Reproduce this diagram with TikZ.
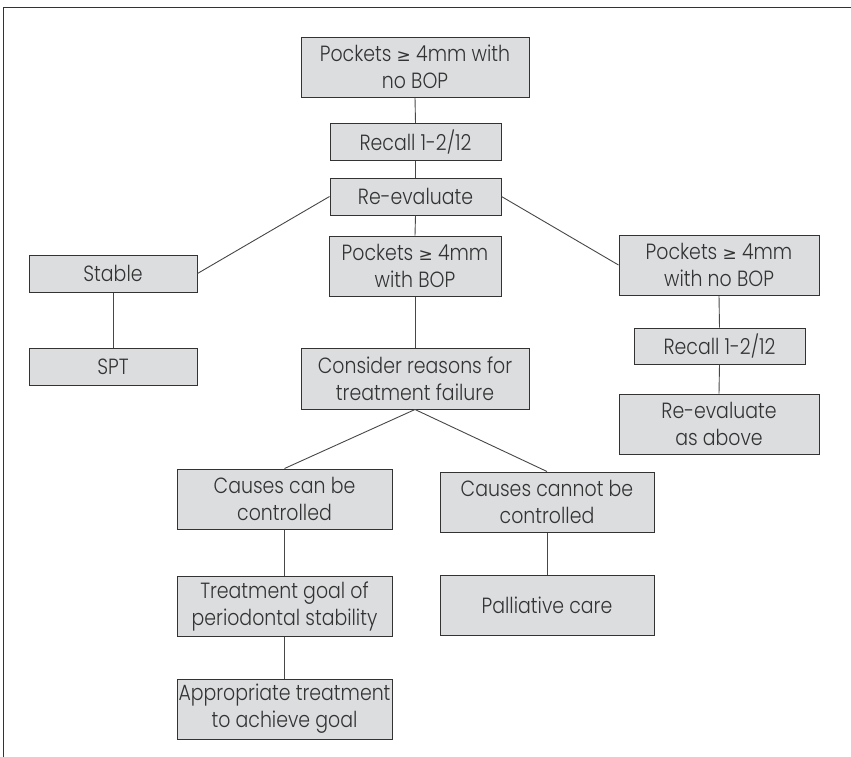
\documentclass[tikz,border=0pt]{standalone}
\usepackage{fontspec}
\setmainfont{Poppins}[UprightFont={* Light}, FakeStretch=0.86]
\newfontfamily\symfont{DejaVu Sans}
\newcommand{\geqs}{{\symfont\fontsize{17}{20}\selectfont ≥}}
\definecolor{boxgray}{HTML}{DCDDDF}
\definecolor{edgegray}{HTML}{333333}

\begin{document}
\begin{tikzpicture}[x=1pt, y=-1pt, font=\fontsize{22}{27}\selectfont,
    box/.style={draw=edgegray, line width=1pt, fill=boxgray, text=edgegray, align=center, inner sep=0pt},
    wide/.style={box, minimum width=228, minimum height=60},
    mid/.style={box, minimum width=171, minimum height=37},
    side/.style={box, minimum width=168, minimum height=37},
    right/.style={box, minimum width=200, minimum height=60},
    low/.style={box, minimum width=215, minimum height=60},
    link/.style={draw=edgegray!90, line width=0.9pt}]
    \useasboundingbox (0,0) rectangle (851,756);
    \draw[edgegray, line width=1pt] (860,7) -- (3,7) -- (3,760);
    \node[wide] (top) at (415,67) {Pockets \geqs{} 4mm with\\no BOP};
    \node[mid] (recall) at (415.5,142) {Recall 1-2/12};
    \node[mid] (reeval) at (415.5,196.5) {Re-evaluate};
    \node[side] (stable) at (113,273.5) {Stable};
    \node[side] (spt) at (113,366.5) {SPT};
    \node[box, minimum width=172, minimum height=60] (bop) at (415,266) {Pockets \geqs{} 4mm\\with BOP};
    \node[wide, minimum height=61] (consider) at (415,378.5) {Consider reasons for\\treatment failure};
    \node[right] (nobop) at (719,265) {Pockets \geqs{} 4mm\\with no BOP};
    \node[mid, minimum height=36] (recalltwo) at (719.5,346) {Recall 1-2/12};
    \node[right] (reevaltwo) at (719,424) {Re-evaluate\\as above};
    \node[low] (can) at (284.5,499) {Causes can be\\controlled};
    \node[low, minimum width=214] (cannot) at (547,502) {Causes cannot be\\controlled};
    \node[low] (goal) at (284.5,606) {Treatment goal of\\periodontal stability};
    \node[low, minimum width=214] (palliative) at (547,605.5) {Palliative care};
    \node[low] (approp) at (284.5,709) {Appropriate treatment\\to achieve goal};
    \foreach \a/\b in {top/recall, recall/reeval, reeval/bop, bop/consider, stable/spt, nobop/recalltwo, recalltwo/reevaltwo, can/goal, goal/approp, cannot/palliative}
        \draw[link] (\a.south) -- (\b.north);
    \draw[link] (reeval.west) -- (stable.east);
    \draw[link] (reeval.east) -- (nobop.west);
    \draw[link] (consider.south) -- (can.north);
    \draw[link] (consider.south) -- (cannot.north);
\end{tikzpicture}
\end{document}
